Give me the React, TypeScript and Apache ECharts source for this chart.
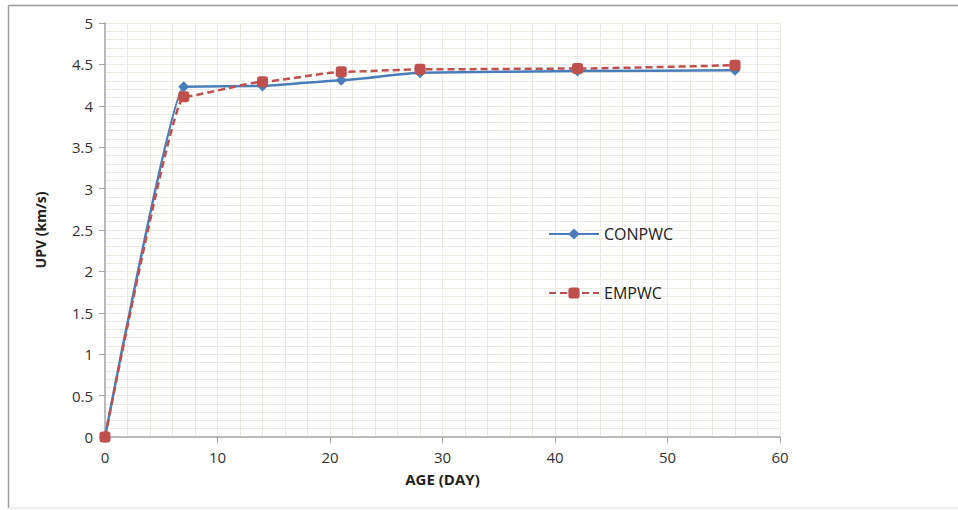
import React, { useEffect, useRef } from "react";
import * as echarts from "echarts";

// Curing age in days
const ageDays = [0, 7, 14, 21, 28, 42, 56];
// Ultrasonic pulse velocity (km/s)
const conpwc = [0, 4.23, 4.24, 4.31, 4.4, 4.42, 4.43];
const empwc = [0, 4.11, 4.29, 4.41, 4.44, 4.45, 4.49];

const seriesNames = ["CONPWC", "EMPWC"];

const FONT = "'Open Sans', 'Noto Sans', sans-serif";
const GRID_COLOR = "#ebebe1";
const AXIS_COLOR = "#a6a6a6";
const FRAME_COLOR = "#9a9a9a";

export default function App() {
  const ref = useRef<HTMLDivElement>(null);

  useEffect(() => {
    document.body.style.margin = "0";
    if (!ref.current) return;
    const chart = echarts.init(ref.current, undefined, { renderer: "svg" });
    chart.setOption({
      animation: false,
      backgroundColor: "#ffffff",
      graphic: [
        {
          type: "line",
          shape: { x1: 8.5, y1: 5.5, x2: 958, y2: 5.5 },
          style: { stroke: FRAME_COLOR, lineWidth: 1.5 },
          silent: true,
        },
        {
          type: "line",
          shape: { x1: 8.5, y1: 5.5, x2: 8.5, y2: 508 },
          style: { stroke: FRAME_COLOR, lineWidth: 1.5 },
          silent: true,
        },
        {
          type: "line",
          shape: { x1: 8.5, y1: 508, x2: 958, y2: 508 },
          style: { stroke: "#dcdcdc", lineWidth: 1 },
          silent: true,
        },
      ],
      grid: { left: 105, top: 23, width: 675, height: 414 },
      legend: {
        orient: "vertical",
        left: 548,
        top: 226,
        padding: 0,
        itemWidth: 50,
        itemHeight: 14,
        itemGap: 43,
        textStyle: { fontFamily: FONT, fontSize: 16, color: "#222" },
        data: seriesNames,
      },
      xAxis: {
        type: "value",
        min: 0,
        max: 60,
        interval: 10,
        name: "AGE (DAY)",
        nameLocation: "middle",
        nameGap: 34,
        nameTextStyle: { fontFamily: FONT, fontSize: 15, fontWeight: "bold", color: "#222" },
        axisLine: { show: true, lineStyle: { color: AXIS_COLOR, width: 1.5 } },
        axisTick: { show: true, length: 6, lineStyle: { color: AXIS_COLOR } },
        axisLabel: { fontFamily: FONT, fontSize: 15, color: "#333", margin: 12 },
        splitLine: { show: true, lineStyle: { color: GRID_COLOR, width: 1 } },
        minorTick: { show: false, splitNumber: 5 },
        minorSplitLine: { show: true, lineStyle: { color: GRID_COLOR, width: 1 } },
      },
      yAxis: {
        type: "value",
        min: 0,
        max: 5,
        interval: 0.5,
        name: "UPV (km/s)",
        nameLocation: "middle",
        nameGap: 58,
        nameTextStyle: { fontFamily: FONT, fontSize: 14, fontWeight: "bold", color: "#222" },
        axisLine: { show: true, lineStyle: { color: AXIS_COLOR, width: 1.5 } },
        axisTick: { show: true, length: 6, lineStyle: { color: AXIS_COLOR } },
        axisLabel: { fontFamily: FONT, fontSize: 15, color: "#333", margin: 12 },
        splitLine: { show: true, lineStyle: { color: GRID_COLOR, width: 1 } },
        minorTick: { show: false, splitNumber: 5 },
        minorSplitLine: { show: true, lineStyle: { color: GRID_COLOR, width: 1 } },
      },
      series: [
        {
          name: seriesNames[0],
          type: "line",
          data: ageDays.map((d, i) => [d, conpwc[i]]),
          smooth: 0.15,
          smoothMonotone: "x",
          symbol: "diamond",
          symbolSize: 11,
          color: "#4a7ebb",
          lineStyle: { color: "#4a7ebb", width: 2.5 },
          itemStyle: { color: "#4a7ebb" },
          z: 2,
        },
        {
          name: seriesNames[1],
          type: "line",
          data: ageDays.map((d, i) => [d, empwc[i]]),
          smooth: 0.15,
          smoothMonotone: "x",
          symbol: "roundRect",
          symbolSize: 11,
          color: "#c0504d",
          lineStyle: { color: "#c0504d", width: 2.5, type: [7, 4] },
          itemStyle: { color: "#c0504d" },
          z: 3,
        },
      ],
    });
    return () => chart.dispose();
  }, []);

  return <div ref={ref} style={{ width: 958, height: 510 }} />;
}
